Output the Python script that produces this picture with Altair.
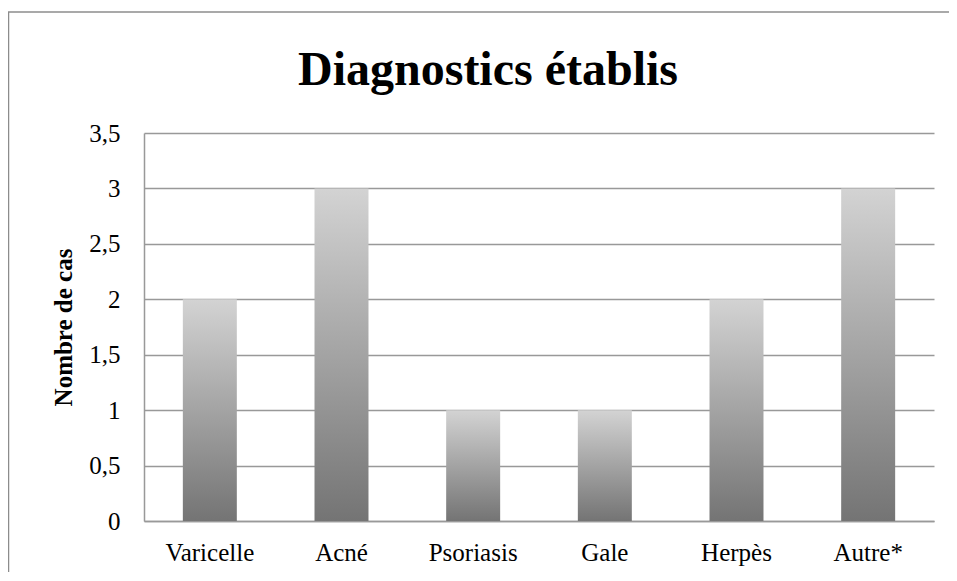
import altair as alt
import pandas as pd

title_text = ["Diagnostics établis"]
categories = ["Varicelle", "Acné", "Psoriasis", "Gale", "Herpès", "Autre*"]
values = [2, 3, 1, 1, 2, 3]
y_ticks = [0, 0.5, 1, 1.5, 2, 2.5, 3, 3.5]

df = pd.DataFrame({"cat": categories, "val": values})

FONT = "Liberation Serif, Times New Roman, serif"
GRID = "#999999"
FRAME = "#8c8c8c"

grad = alt.Gradient(
    gradient="linear",
    stops=[alt.GradientStop(color="#d3d3d3", offset=0),
           alt.GradientStop(color="#747474", offset=1)],
    x1=0, x2=0, y1=0, y2=1,
)

bars = alt.Chart(df).mark_bar(color=grad).encode(
    x=alt.X("cat:N", sort=categories,
            scale=alt.Scale(paddingInner=0.59, paddingOuter=0.295),
            axis=alt.Axis(title=None, labelAngle=0, ticks=False, grid=False,
                          domainColor=GRID, domainWidth=1.5,
                          labelFont=FONT, labelFontSize=25, labelColor="#000",
                          labelPadding=19)),
    y=alt.Y("val:Q", scale=alt.Scale(domain=[0, 3.5], nice=False),
            axis=alt.Axis(values=y_ticks, title="Nombre de cas",
                          labelExpr="replace(toString(datum.value), '.', ',')",
                          ticks=False, grid=True, gridColor=GRID, gridWidth=1.5,
                          domainColor=GRID, domainWidth=1.5,
                          labelFont=FONT, labelFontSize=25, labelColor="#000",
                          labelPadding=24,
                          titleFont=FONT, titleFontSize=25, titleFontWeight="bold",
                          titleColor="#000", titlePadding=12)),
)

title = alt.Chart(pd.DataFrame({"t": title_text})).mark_text(
    font=FONT, fontSize=48, fontWeight="bold", color="#000",
    align="center", baseline="alphabetic"
).encode(
    text="t:N", x=alt.value(344), y=alt.value(-48),
)

one = pd.DataFrame({"a": [0]})
frame_left = alt.Chart(one).mark_rule(color=FRAME, strokeWidth=1.5).encode(
    x=alt.value(-135.5), y=alt.value(-121), y2=alt.value(439),
)
frame_top = alt.Chart(one).mark_rule(color=FRAME, strokeWidth=1.5).encode(
    x=alt.value(-136), x2=alt.value(805), y=alt.value(-121),
)

chart = alt.layer(bars, title, frame_left, frame_top).properties(
    width=790, height=388,
    padding={"left": 136, "top": 125, "right": 15, "bottom": 51},
    autosize=alt.AutoSizeParams(type="none"),
).configure_view(stroke=None)

chart.save("out.html", embed_options={"renderer": "svg", "actions": False})
